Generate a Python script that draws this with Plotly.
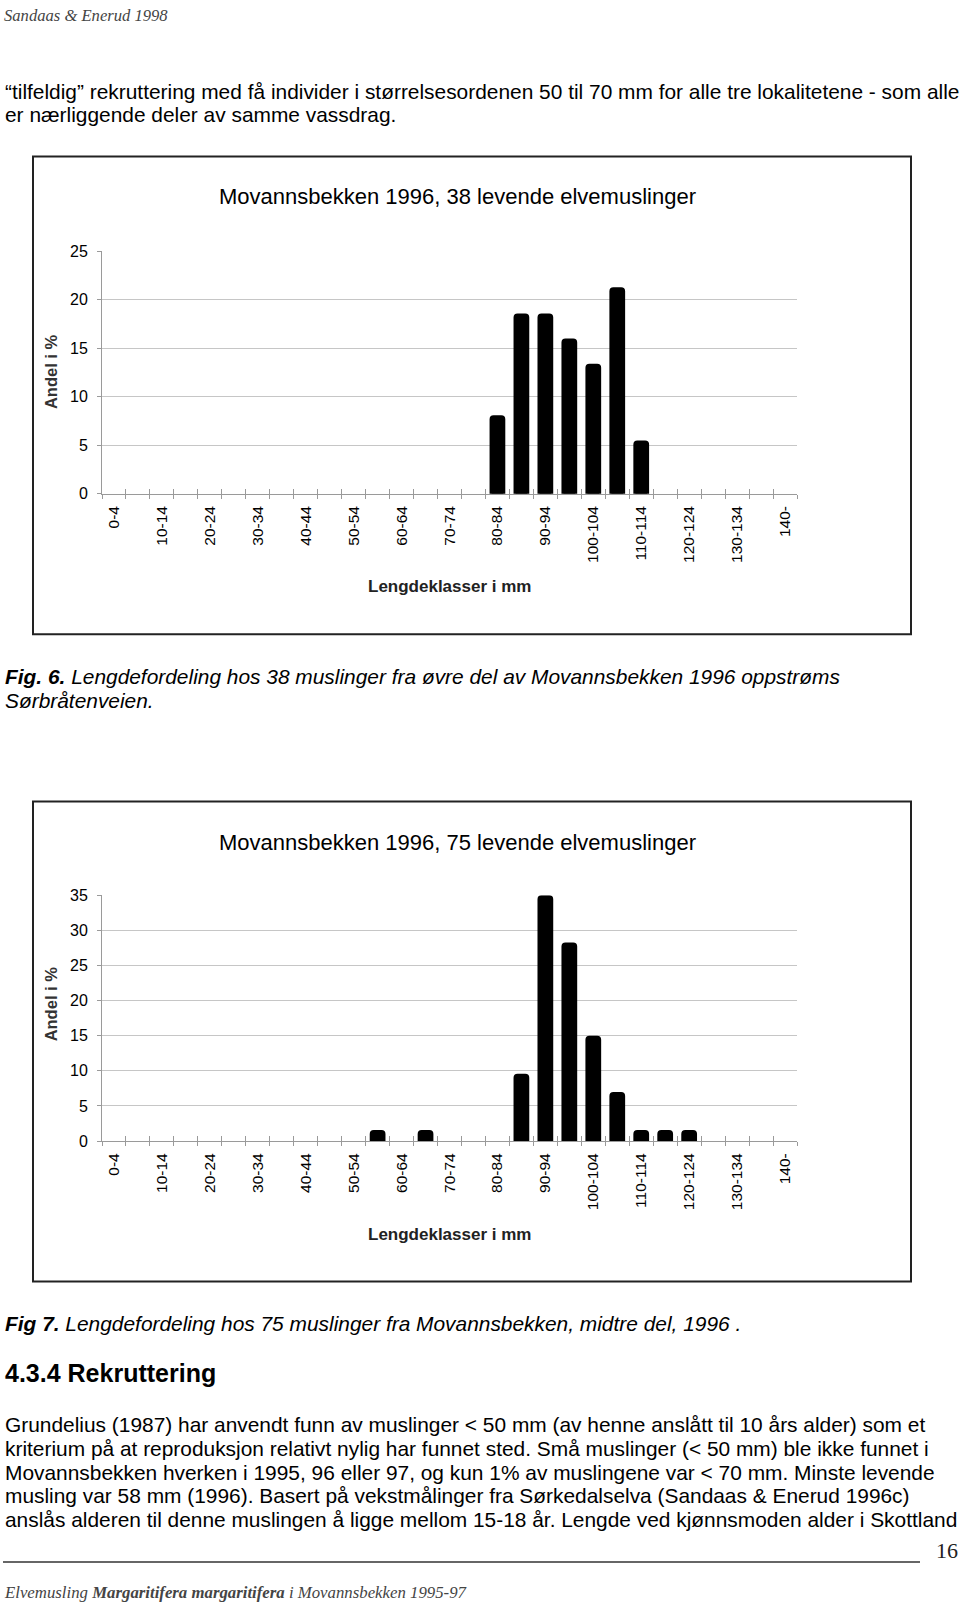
import plotly.graph_objects as go

W, H = 960, 1611

# ---------------- data ----------------
categories = ["0-4", "5-9", "10-14", "15-19", "20-24", "25-29", "30-34", "35-39",
              "40-44", "45-49", "50-54", "55-59", "60-64", "65-69", "70-74", "75-79",
              "80-84", "85-89", "90-94", "95-99", "100-104", "105-109", "110-114",
              "115-119", "120-124", "125-129", "130-134", "135-139", "140-"]
tick_labels = ["0-4", "", "10-14", "", "20-24", "", "30-34", "",
               "40-44", "", "50-54", "", "60-64", "", "70-74", "",
               "80-84", "", "90-94", "", "100-104", "", "110-114",
               "", "120-124", "", "130-134", "", "140-"]
# Andel i % (Fig. 6, 38 muslinger)
fig6_pct = [0, 0, 0, 0, 0, 0, 0, 0, 0, 0, 0, 0, 0, 0, 0, 0,
            7.9, 18.4, 18.4, 15.8, 13.2, 21.1, 5.3, 0, 0, 0, 0, 0, 0]
# Andel i % (Fig. 7, 75 muslinger)
fig7_pct = [0, 0, 0, 0, 0, 0, 0, 0, 0, 0, 0, 1.3, 0, 1.3, 0, 0,
            0, 9.3, 34.7, 28.0, 14.7, 6.7, 1.3, 1.3, 1.3, 0, 0, 0, 0]
fig6_title = "Movannsbekken 1996, 38 levende elvemuslinger"
fig7_title = "Movannsbekken 1996, 75 levende elvemuslinger"
y_title = "Andel i %"
x_title = "Lengdeklasser i mm"

SANS = "Liberation Sans, Arial, sans-serif"
SERIF = "Liberation Serif, Times New Roman, serif"
BODY = 20.9


def fx(p):
    return p / W


def fy(p):
    return 1 - p / H


fig = go.Figure()

bar_style = dict(color="black", line=dict(color="black", width=4), cornerradius=2)
for vals, xa, ya, xov in [(fig6_pct, "x", "y", "x3"), (fig7_pct, "x2", "y2", "x4")]:
    fig.add_trace(go.Bar(x=categories, y=[v if v > 0 else None for v in vals],
                         xaxis=xa, yaxis=ya, marker=bar_style,
                         showlegend=False, hoverinfo="skip"))
    fig.add_trace(go.Bar(x=categories, y=[None] * len(categories),
                         xaxis=xov, yaxis=ya, showlegend=False, hoverinfo="skip"))

AX_GRAY = "#9a9a9a"
GRID = "#c6c6c6"


def xaxis_cfg(anchor, ticks, ticklen, labels, overlay=None):
    d = dict(domain=[fx(102), fx(797)], anchor=anchor, type="category",
             categoryorder="array", categoryarray=categories,
             range=[-0.5, len(categories) - 0.5],
             tickmode="array", tickvals=categories, ticktext=tick_labels,
             tickson="boundaries", ticks=ticks, ticklen=ticklen, tickwidth=1,
             tickcolor=AX_GRAY, showgrid=False, zeroline=False,
             showline=labels, linecolor=AX_GRAY, linewidth=1,
             showticklabels=labels, tickangle=-90, ticklabelstandoff=5,
             tickfont=dict(family=SANS, size=15.5, color="black"), fixedrange=True)
    if overlay:
        d["overlaying"] = overlay
    return d


def yaxis_cfg(top, bottom, ymax):
    return dict(domain=[fy(bottom), fy(top)], range=[0, ymax], dtick=5, tick0=0,
                showgrid=True, gridcolor=GRID, gridwidth=1, zeroline=False,
                showline=True, linecolor=AX_GRAY, linewidth=1,
                ticks="outside", ticklen=4, tickcolor=AX_GRAY, ticklabelstandoff=6,
                tickfont=dict(family=SANS, size=16, color="black"), fixedrange=True)


c1_top, c1_bot = 246, 491
c2_top, c2_bot = 896.7, 1145.2

fig.update_layout(
    width=W, height=H, margin=dict(l=0, r=0, t=0, b=0),
    paper_bgcolor="white", plot_bgcolor="white", bargap=0.51,
    xaxis=xaxis_cfg("y", "outside", 4, True),
    xaxis3=xaxis_cfg("y", "inside", 5, False, overlay="x"),
    yaxis=yaxis_cfg(c1_top, c1_bot, 25),
    xaxis2=xaxis_cfg("y2", "outside", 4, True),
    xaxis4=xaxis_cfg("y2", "inside", 5, False, overlay="x2"),
    yaxis2=yaxis_cfg(c2_top, c2_bot, 35),
)

ann = []


def text(x, y, s, size, family=SANS, color="black", xanchor="left", angle=0):
    ann.append(dict(x=fx(x), y=fy(y), xref="paper", yref="paper", text=s,
                    showarrow=False, xanchor=xanchor, yanchor="middle",
                    textangle=angle, font=dict(family=family, size=size, color=color)))


# header
text(2, 8, "<i>Sandaas &amp; Enerud 1998</i>", 16.6, family=SERIF, color="#444")

# paragraph
text(3, 84, "“tilfeldig” rekruttering med få individer i størrelsesordenen 50 til 70 mm for alle tre lokalitetene - som alle", BODY)
text(3, 108, "er nærliggende deler av samme vassdrag.", BODY)

# chart 1 texts
text(457, 191, fig6_title, 22, xanchor="center")
text(51, 368, "<b>" + y_title + "</b>", 16.5, color="#333", xanchor="center", angle=-90)
text(449.5, 585, "<b>" + x_title + "</b>", 17, color="#222", xanchor="center")

# caption fig 6
text(3, 676, "<b><i>Fig. 6.</i></b><i> Lengdefordeling hos 38 muslinger fra øvre del av Movannsbekken 1996 oppstrøms</i>", BODY)
text(3, 700, "<i>Sørbråtenveien.</i>", BODY)

# chart 2 texts
text(457, 843, fig7_title, 22, xanchor="center")
text(51, 1007, "<b>" + y_title + "</b>", 16.5, color="#333", xanchor="center", angle=-90)
text(449.5, 1240, "<b>" + x_title + "</b>", 17, color="#222", xanchor="center")

# caption fig 7
text(3, 1330, "<b><i>Fig 7.</i></b><i> Lengdefordeling hos 75 muslinger fra Movannsbekken, midtre del, 1996 .</i>", BODY)

# heading
text(3, 1380, "<b>4.3.4 Rekruttering</b>", 25)

body = [
    "Grundelius (1987) har anvendt funn av muslinger &lt; 50 mm (av henne anslått til 10 års alder) som et",
    "kriterium på at reproduksjon relativt nylig har funnet sted. Små muslinger (&lt; 50 mm) ble ikke funnet i",
    "Movannsbekken hverken i 1995, 96 eller 97, og kun 1% av muslingene var &lt; 70 mm. Minste levende",
    "musling var 58 mm (1996). Basert på vekstmålinger fra Sørkedalselva (Sandaas &amp; Enerud 1996c)",
    "anslås alderen til denne muslingen å ligge mellom 15-18 år. Lengde ved kjønnsmoden alder i Skottland",
]
for i, line in enumerate(body):
    text(3, 1432 + i * 23.9, line, BODY)

# page number & footer
text(947, 1559, "16", 22, family=SERIF, color="#222", xanchor="center")
text(2, 1601, "<i>Elvemusling <b>Margaritifera margaritifera</b> i Movannsbekken 1995-97</i>", 16.8,
     family=SERIF, color="#444")

fig.update_layout(annotations=ann)

shapes = []
for top, bot in [(150, 633), (802, 1287)]:
    shapes.append(dict(type="rect", xref="paper", yref="paper",
                       x0=fx(33), x1=fx(911), y0=fy(bot), y1=fy(top),
                       line=dict(color="#222", width=2), fillcolor="rgba(0,0,0,0)", layer="below"))
shapes.append(dict(type="line", xref="paper", yref="paper",
                   x0=fx(3), x1=fx(920), y0=fy(1570.5), y1=fy(1570.5),
                   line=dict(color="#333", width=1.5)))
fig.update_layout(shapes=shapes)

fig.write_html("out.html", config={"displayModeBar": False, "staticPlot": True},
               post_script="document.body.style.margin='0';document.body.style.padding='0';")
